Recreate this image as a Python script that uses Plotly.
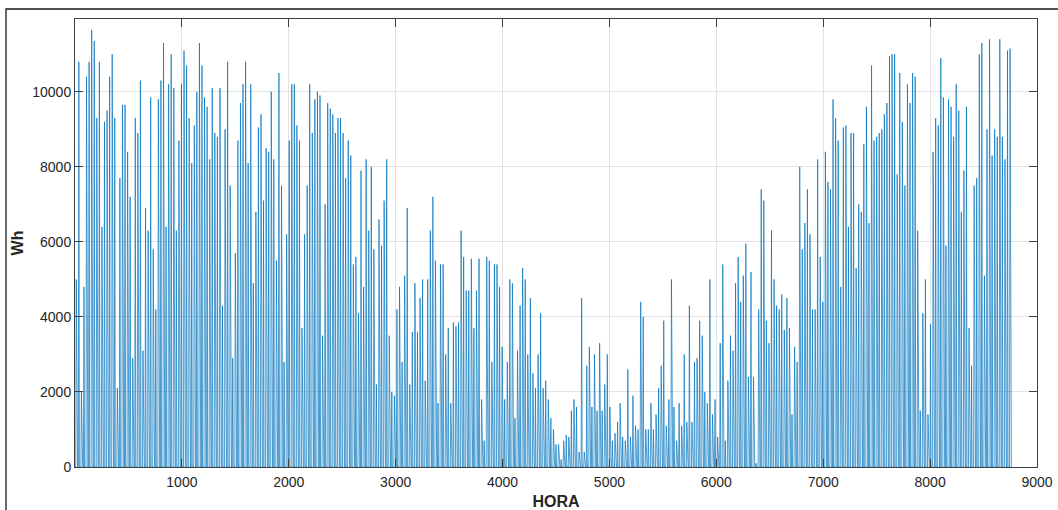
import numpy as np
import plotly.graph_objects as go

# Peak hourly energy of each day of the year (Wh), day 0 .. day 364
peak_wh = [
    5000,
    10800, 2000, 4800, 10400, 10800, 11650, 11350, 9300, 10800, 6400,
    9200, 9500, 10400, 11000, 9300, 2100, 7700, 9650, 9650, 8400,
    7200, 2900, 9300, 8900, 10300, 3100, 6900, 6300, 9850, 5800,
    4200, 9800, 10300, 11300, 6400, 10200, 11000, 10100, 6300, 8700,
    10200, 11100, 10700, 9300, 8100, 9100, 10000, 11300, 10700, 9850,
    9600, 8200, 10100, 8900, 8800, 10100,
    4300, 9000, 10800, 7500, 2900, 5700, 8700, 9700, 10200, 10800,
    8100, 10200, 4900, 6800, 9050, 9400, 7100, 8500, 8400, 10000,
    8200, 5500, 10500, 7500, 2800, 6200, 8700, 10200, 10200, 9100,
    8700, 3700, 6200, 7500, 10200, 8900, 9800, 10000, 9900, 3500,
    7000, 9700, 9550, 9400, 8900, 9300, 9300, 8900, 7700, 8700,
    8300, 5400, 5600, 4100, 7900, 4800, 8200, 6300, 8000, 5800,
    2200, 6600, 5900, 7100, 8200, 3500,
    2000, 1900, 4200, 4800, 2800, 5100, 6900, 2200, 3600, 4900,
    3600, 4500, 5000, 2300, 5000, 6300, 7200, 5500, 1700, 5400,
    5400, 3000, 3700, 1700, 3850, 3750, 3850, 6300, 5600, 4700,
    4700, 5550, 3700, 4700, 5550, 1800, 700, 5600, 5500, 2800,
    5400, 5400, 4800, 3200, 1800, 2800, 5000, 4900, 1300, 3100,
    4300, 5300, 5000, 3000, 4500, 2500, 2100, 3000, 4100, 2100,
    2300, 1800, 1300,
    1000, 600, 600, 200, 700, 850, 800, 1500, 1800, 1600,
    400, 4500, 400, 2700, 3200, 1600, 3000, 1500, 3300, 1500,
    2200, 3000, 1600, 700, 900, 1200, 1700, 800, 700, 2600,
    800, 1900, 1100, 1000, 4400, 4000, 1000, 1000, 1700, 1000,
    1400, 2100, 2700, 3900, 1100, 1800, 5000, 1600, 700, 1700,
    1100, 3000, 1200, 4300, 1200, 2800, 2900, 3900, 3500, 2000,
    1700, 5000,
    1400, 1800, 800, 3300, 5400, 700, 2300, 3500, 3100, 4900,
    5600, 4400, 5100, 5950, 2400, 5200, 2400, 100, 4200, 7400,
    7100, 3900, 3300, 6300, 5000, 4300, 4200, 4600, 3650, 4500,
    3700, 1400, 3200, 2800, 8000, 5800, 6500, 7400, 6200, 4200,
    4200, 8200, 5600, 4400, 8400, 7600, 7400, 9800, 9300, 8700,
    4800, 9050, 9100, 6400, 8900, 8900, 5300, 7000, 6800, 8600,
    9600, 6500, 10700,
    8700, 8800, 8900, 9000, 9400, 9700, 10950, 11000, 11000, 7800,
    10500, 9200, 7500, 10200, 9700, 10500, 10400, 6300, 1500, 4100,
    5000, 1400, 3800, 8400, 9300, 9100, 10900, 9850, 5900, 9800,
    9600, 8800, 10200, 9500, 6800, 7900, 9600, 3700, 2700, 7500,
    7700, 11000, 11300, 5100, 9000, 11400, 8300, 9000, 8800, 11400,
    8800, 8200, 11100, 11150,
]

# Hours of the day that carry a sample, and the share of the day's peak at each
profile_hours = [0, 7, 12, 17]
profile_share = [0.0, 0.0, 1.0, 0.0]

x_ticks = [1000, 2000, 3000, 4000, 5000, 6000, 7000, 8000, 9000]
y_ticks = [0, 2000, 4000, 6000, 8000, 10000]

days = np.arange(len(peak_wh))
hours = (days[:, None] * 24 + np.array(profile_hours)[None, :]).ravel()
energy = (np.array(peak_wh, dtype=float)[:, None] * np.array(profile_share)[None, :]).ravel()
hours = np.append(hours, len(peak_wh) * 24)
energy = np.append(energy, 0.0)

fig = go.Figure(
    go.Scatter(
        x=hours,
        y=energy,
        mode="lines",
        line=dict(color="#0072BD", width=0.7),
        hoverinfo="skip",
    )
)

axis_font = dict(family="Liberation Sans, Arial, sans-serif", size=14, color="#262626")
title_font = dict(family="Liberation Sans, Arial, sans-serif", size=16, color="#262626")

fig.update_xaxes(
    range=[0, 9000],
    tickvals=x_ticks,
    ticktext=[str(v) for v in x_ticks],
    ticks="inside",
    ticklen=8,
    tickcolor="#404040",
    mirror="ticks",
    showline=True,
    linecolor="#404040",
    linewidth=1,
    showgrid=True,
    gridcolor="#e3e3e3",
    gridwidth=1,
    zeroline=False,
    tickfont=axis_font,
    ticklabelstandoff=2,
    automargin=False,
    title=dict(text="<b>HORA</b>", font=title_font, standoff=15),
)
fig.update_yaxes(
    range=[0, 11940],
    tickvals=y_ticks,
    ticktext=[str(v) for v in y_ticks],
    ticks="inside",
    ticklen=8,
    tickcolor="#404040",
    mirror="ticks",
    showline=True,
    linecolor="#404040",
    linewidth=1,
    showgrid=True,
    gridcolor="#e3e3e3",
    gridwidth=1,
    zeroline=False,
    tickfont=axis_font,
    automargin=False,
    title=dict(text="<b>Wh</b>", font=title_font, standoff=4),
)

# Figure border (left and top edges fall inside the canvas)
plot_w = 1058 - 75 - 21
plot_h = 510 - 19 - 43
fx = (6 - 75) / plot_w
fy = (510 - 43 - 9) / plot_h
fig.add_shape(
    type="path",
    xref="paper",
    yref="paper",
    path=f"M {fx} -1 L {fx} {fy} L 2 {fy}",
    line=dict(color="#1a1a1a", width=1.3),
)

fig.update_layout(
    width=1058,
    height=510,
    margin=dict(l=75, r=21, t=19, b=43),
    paper_bgcolor="white",
    plot_bgcolor="white",
    showlegend=False,
)

fig.write_html("out.html")
